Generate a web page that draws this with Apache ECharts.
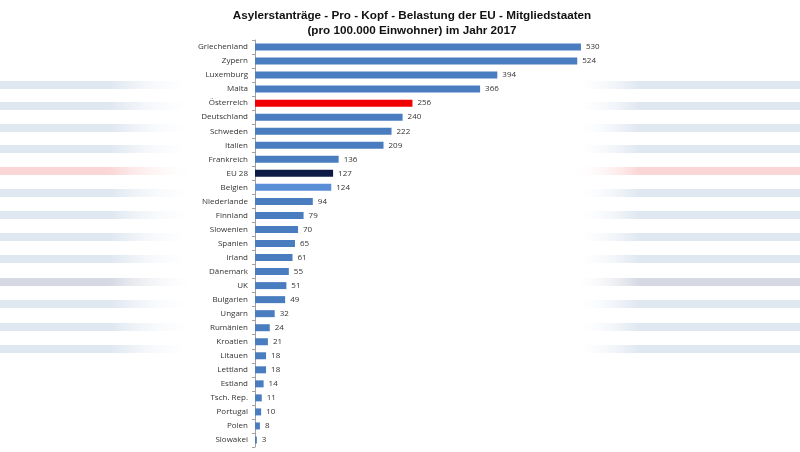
<!DOCTYPE html>
<html><head><meta charset="utf-8">
<script src="https://cdn.jsdelivr.net/npm/echarts@6/dist/echarts.min.js"></script>
<style>html,body{margin:0;padding:0;background:#fff}#c{width:800px;height:452px}</style>
</head><body><div id="c"></div>
<script>
const titleLines = ['Asylerstanträge - Pro - Kopf - Belastung der EU - Mitgliedstaaten', '(pro 100.000 Einwohner) im Jahr 2017'];
const countries = ['Griechenland','Zypern','Luxemburg','Malta','Österreich','Deutschland','Schweden','Italien','Frankreich','EU 28','Belgien','Niederlande','Finnland','Slowenien','Spanien','Irland','Dänemark','UK','Bulgarien','Ungarn','Rumänien','Kroatien','Litauen','Lettland','Estland','Tsch. Rep.','Portugal','Polen','Slowakei'];
const values = [530,524,394,366,256,240,222,209,136,127,124,94,79,70,65,61,55,51,49,32,24,21,18,18,14,11,10,8,3];
const highlight = {'Österreich':'#f00000','EU 28':'#0c1a45','Belgien':'#5a8fd8'};
const baseColor = '#4a7dbf';

// decorative background stripes (y positions, colors)
const stripeY = [85,106,128,149,171,193,215,237,259,282,304,327,349];
const stripeCol = ['#dfe7f1','#dfe7f1','#dfe7f1','#dfe7f1','#fbd6d6','#dfe7f1','#dfe7f1','#dfe7f1','#dfe7f1','#d6d9e3','#dfe7f1','#dfe7f1','#dfe7f1'];

const chart = echarts.init(document.getElementById('c'));
const graphics = [];
stripeY.forEach((y,i)=>{
  const c = stripeCol[i];
  graphics.push({type:'rect', z:-10, silent:true, shape:{x:0,y:y-4,width:200,height:8},
    style:{fill:new echarts.graphic.LinearGradient(0,0,1,0,[{offset:0,color:c},{offset:0.55,color:c},{offset:1,color:'rgba(255,255,255,0)'}])}});
  graphics.push({type:'rect', z:-10, silent:true, shape:{x:570,y:y-4,width:230,height:8},
    style:{fill:new echarts.graphic.LinearGradient(0,0,1,0,[{offset:0,color:'rgba(255,255,255,0)'},{offset:0.3,color:c},{offset:1,color:c}])}});
});

chart.setOption({
  animation:false,
  backgroundColor:'#ffffff',
  title:{text:titleLines.join('\n'), left:407, textAlign:'center', top:3,
    textStyle:{fontFamily:'Liberation Sans, Arial', fontWeight:'bold', fontSize:11.7, color:'#111', lineHeight:15}},
  graphic:graphics,
  grid:{left:255, top:40, width:369, bottom:5, containLabel:false},
  xAxis:{type:'value', min:0, max:600, show:false},
  yAxis:{type:'category', data:countries, inverse:true,
    axisLine:{lineStyle:{color:'#a0a0a0'}},
    axisTick:{show:true, length:3, lineStyle:{color:'#a0a0a0'}},
    axisLabel:{fontFamily:'Open Sans, Liberation Sans', fontSize:8, color:'#333', margin:7}},
  series:[{type:'bar', barWidth:7,
    data:values.map((v,i)=>({value:v, itemStyle:{color:highlight[countries[i]]||baseColor}})),
    label:{show:true, position:'right', distance:5, fontFamily:'Open Sans, Liberation Sans', fontSize:8, color:'#333'}}]
});
</script></body></html>
